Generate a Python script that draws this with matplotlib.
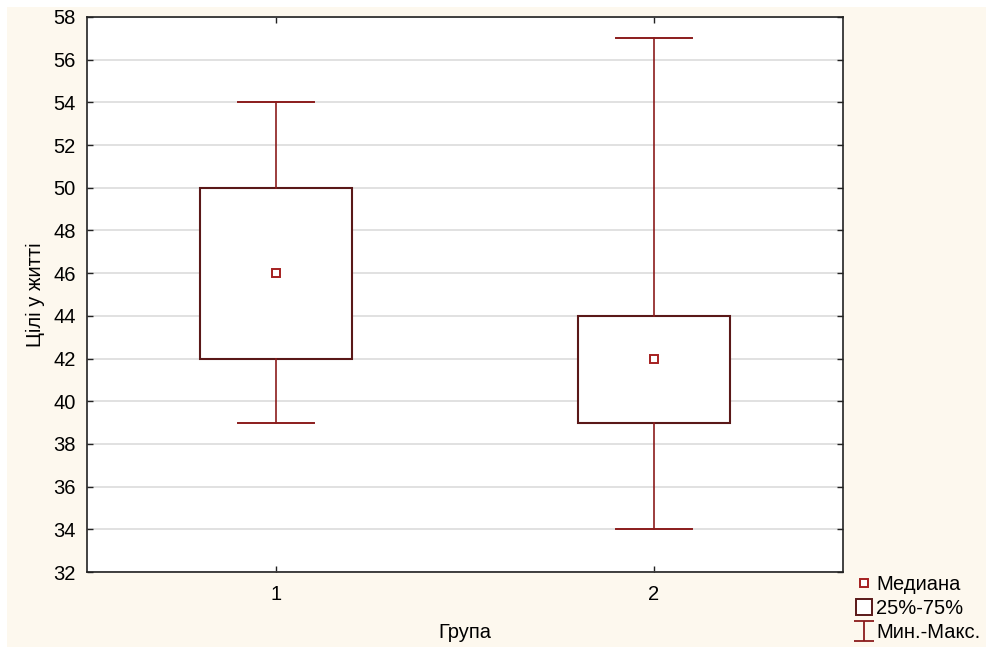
import matplotlib.pyplot as plt
from matplotlib.lines import Line2D
from matplotlib.patches import Rectangle
from matplotlib.path import Path

plt.rcParams['font.family'] = ['Liberation Sans', 'DejaVu Sans']

groups = [1, 2]
medians = [46, 42]
q1 = [42, 39]
q3 = [50, 44]
mins = [39, 34]
maxs = [54, 57]
yticks = list(range(32, 59, 2))

box_color = '#5a1818'
whisk_color = '#8b1c1c'
med_color = '#a52020'
cream = '#fdf8ee'

fig = plt.figure(figsize=(9.87, 6.47), dpi=100, facecolor='white')
fig.patches.append(Rectangle((7 / 987, 0), 1, 1 - 7 / 647, transform=fig.transFigure,
                             facecolor=cream, edgecolor='none', zorder=-10))

ax = fig.add_axes([87 / 987, 75 / 647, (843 - 87) / 987, (572 - 17) / 647])
ax.set_facecolor('white')

stats = []
for g, m, lo, hi, a, b in zip(groups, medians, q1, q3, mins, maxs):
    stats.append({'med': m, 'q1': lo, 'q3': hi, 'whislo': a, 'whishi': b, 'label': str(g)})

ax.bxp(stats, positions=groups, widths=0.4, showfliers=False, patch_artist=True,
       boxprops=dict(facecolor='white', edgecolor=box_color, linewidth=1.5),
       whiskerprops=dict(color=whisk_color, linewidth=1.2),
       capprops=dict(color=whisk_color, linewidth=1.4),
       medianprops=dict(linewidth=0), capwidths=0.2, zorder=3)
ax.plot(groups, medians, linestyle='none', marker='s', markersize=6,
        markerfacecolor='white', markeredgecolor=med_color, markeredgewidth=1.4, zorder=4)

ax.set_xlim(0.5, 2.5)
ax.set_ylim(32, 58)
ax.set_yticks(yticks)
ax.set_xticks(groups)
ax.set_xticklabels([str(g) for g in groups])
ax.grid(axis='y', color='#dcdcdc', linewidth=1.2, zorder=0)
ax.set_axisbelow(True)
ax.tick_params(direction='in', length=4, width=1, labelsize=14.5, top=True, right=True,
               color='#222222')
ax.tick_params(axis='x', pad=9)
ax.tick_params(axis='y', pad=8)
for s in ax.spines.values():
    s.set_color('#222222')
    s.set_linewidth(1.2)

ax.set_xlabel('Група', fontsize=14.5, labelpad=14)
ax.set_ylabel('Цілі у житті', fontsize=14.5, labelpad=6)

ibar = Path([(-0.5, 0.5), (0.5, 0.5), (0, 0.5), (0, -0.5), (-0.5, -0.5), (0.5, -0.5)],
            [Path.MOVETO, Path.LINETO, Path.MOVETO, Path.LINETO, Path.MOVETO, Path.LINETO])
handles = [
    Line2D([], [], linestyle='none', marker='s', markersize=6, markerfacecolor='white',
           markeredgecolor=med_color, markeredgewidth=1.4),
    Line2D([], [], linestyle='none', marker='s', markersize=12, markerfacecolor='white',
           markeredgecolor=box_color, markeredgewidth=1.4),
    Line2D([], [], linestyle='none', marker=ibar, markersize=14,
           markeredgecolor=whisk_color, markerfacecolor='none', markeredgewidth=1.3),
]
labels = ['Медиана', '25%-75%', 'Мин.-Макс.']
fig.legend(handles, labels, loc='upper left', bbox_to_anchor=(842 / 987, 86 / 647),
           frameon=False, fontsize=14.5, handlelength=0.8, handletextpad=0.2,
           labelspacing=0.25, borderpad=0.2)

fig.savefig('out.png', dpi=100, facecolor=fig.get_facecolor())
